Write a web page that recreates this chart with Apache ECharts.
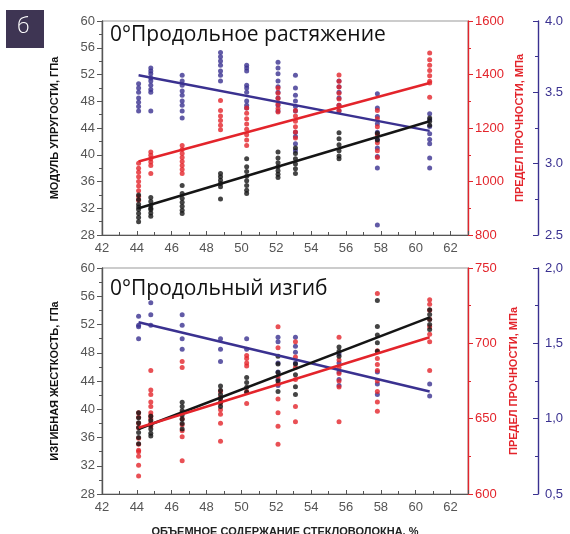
<!DOCTYPE html>
<html>
<head>
<meta charset="utf-8">
<script src="https://cdn.jsdelivr.net/npm/echarts@6/dist/echarts.min.js"></script>
<style>
  html, body { margin: 0; padding: 0; background: #fff; }
  #chart { width: 570px; height: 534px; }
</style>
</head>
<body>
<div id="chart"></div>
<script>
// fibre volume fraction, %, one value per column of points
var xCols = [44.1, 44.8, 46.6, 48.8, 50.3, 52.1, 53.1, 55.6, 57.8, 60.8];

// top: 0° tension
var tensModulus = [
  [34.0, 33.3, 32.6, 32.2, 31.8, 31.2, 30.6, 30.0],
  [33.6, 33.0, 32.4, 32.0, 31.8, 31.3, 30.8],
  [35.4, 34.2, 33.5, 32.9, 32.3, 31.7, 31.2],
  [37.2, 36.7, 36.2, 35.7, 35.2, 33.4],
  [39.4, 38.2, 37.5, 36.8, 36.1, 35.4, 34.7, 34.2],
  [40.4, 39.5, 38.8, 38.2, 37.6, 37.1, 36.6],
  [41.0, 40.2, 39.4, 38.6, 37.9, 37.2],
  [43.3, 42.4, 41.5, 40.6, 39.8, 39.4],
  [43.2, 42.2],
  [45.5, 45.0, 44.4]
];
var tensStrength = [
  [1068, 1050, 1035, 1018, 1000, 983, 965, 945, 930],
  [1110, 1098, 1085, 1073, 1060, 1030],
  [1135, 1120, 1105, 1090, 1075, 1060, 1045, 1030],
  [1303, 1265, 1245, 1228, 1210, 1193],
  [1275, 1255, 1235, 1215, 1195, 1175, 1155, 1135],
  [1350, 1330, 1310, 1290, 1273, 1260],
  [1265, 1245, 1225, 1205, 1185, 1163],
  [1398, 1375, 1353, 1330, 1308, 1285, 1265],
  [1265, 1235, 1205, 1175, 1145, 1115, 1090],
  [1480, 1455, 1435, 1415, 1395, 1375, 1368, 1315]
];
var tensThird = [
  [3.56, 3.53, 3.50, 3.46, 3.43, 3.40, 3.37],
  [3.67, 3.65, 3.63, 3.60, 3.58, 3.55, 3.52, 3.50, 3.37],
  [3.62, 3.58, 3.55, 3.51, 3.48, 3.44, 3.41, 3.37, 3.32],
  [3.78, 3.75, 3.72, 3.69, 3.65, 3.62, 3.58],
  [3.69, 3.67, 3.65, 3.55, 3.53, 3.50, 3.44, 3.41, 3.39],
  [3.71, 3.67, 3.63, 3.58, 3.54, 3.50, 3.46, 3.41, 3.37],
  [3.62, 3.53, 3.48, 3.44, 3.40, 3.37, 3.22, 3.19, 3.14, 3.09],
  [3.58, 3.54, 3.50, 3.46, 3.41, 3.37],
  [3.49, 3.39, 3.33, 3.28, 3.22, 3.17, 3.11, 3.05, 2.97, 2.57],
  [3.35, 3.31, 3.26, 3.21, 3.17, 3.14, 3.04, 2.97]
];
var tensFitModulus = [[44.1, 32.0], [60.8, 45.0]];
var tensFitStrength = [[44.1, 1075], [60.8, 1368]];
var tensFitThird = [[44.1, 3.62], [60.8, 3.23]];

// bottom: 0° bending
var bendModulus = [
  [39.5, 38.8, 38.1, 37.4, 36.7, 36.0, 35.1],
  [39.0, 38.4, 37.8, 37.2, 36.6, 36.2],
  [41.0, 40.4, 39.8, 39.2, 38.6, 38.0, 37.2],
  [43.3, 42.7, 42.1, 41.5, 41.0, 40.4],
  [44.5, 43.8, 43.1, 42.4],
  [47.5, 46.4, 45.2, 44.0, 42.5],
  [46.4, 44.9, 43.2, 42.1],
  [48.8, 48.2, 47.5],
  [55.4, 51.7, 50.5, 49.4, 48.2],
  [54.1, 53.4, 52.7, 52.0, 51.3]
];
var bendStrength = [
  [654, 651, 647, 644, 637, 633, 629, 628, 625, 619, 612],
  [682, 669, 666, 661, 658, 654, 652, 650, 647, 645],
  [688, 684, 654, 650, 646, 642, 638, 622],
  [668, 664, 660, 656, 653, 647, 635],
  [692, 690, 687, 685, 668, 660],
  [711, 697, 678, 673, 663, 654, 645, 633],
  [701, 691, 684, 676, 658, 648],
  [704, 689, 684, 680, 675, 671, 648],
  [733, 695, 690, 686, 682, 675, 668, 661, 655],
  [729, 726, 722, 716, 711, 706, 701, 682]
];
var bendThird = [
  [1.68, 1.62, 1.61, 1.53],
  [1.77, 1.69, 1.62],
  [1.69, 1.62, 1.53, 1.46],
  [1.53, 1.46, 1.38],
  [1.53, 1.46],
  [1.54, 1.51, 1.37, 1.31, 1.26, 1.22],
  [1.54, 1.48, 1.44, 1.37],
  [1.43, 1.37, 1.31, 1.26, 1.22],
  [1.31, 1.23, 1.16],
  [1.23, 1.15]
];
var bendFitModulus = [[44.1, 37.2], [60.8, 53.0]];
var bendFitStrength = [[44.1, 644], [60.8, 704]];
var bendFitThird = [[44.1, 1.64], [60.8, 1.18]];

var BLACK = '#151515';
var RED = '#e3242b';
var BLUE = '#3a3190';
var FONT = 'Liberation Sans, Arial, sans-serif';

function points(cols) {
  var out = [];
  cols.forEach(function (vals, i) {
    vals.forEach(function (v) { out.push([xCols[i], v]); });
  });
  return out;
}

function xAxis(gridIndex, withName) {
  return {
    type: 'value', gridIndex: gridIndex, min: 42, max: 63, interval: 2,
    name: withName ? 'ОБЪЕМНОЕ СОДЕРЖАНИЕ СТЕКЛОВОЛОКНА, %' : '',
    nameLocation: 'middle', nameGap: 32,
    nameTextStyle: { color: '#222', fontWeight: 'bold', fontSize: 11, fontFamily: FONT },
    axisLine: { lineStyle: { color: '#555', width: 1.2 } },
    axisTick: { inside: true, length: 4, lineStyle: { color: '#555' } },
    minorTick: { show: true, splitNumber: 2, length: 3, lineStyle: { color: '#555' } },
    axisLabel: {
      color: '#555', fontSize: 13, fontFamily: FONT, margin: 7,
      formatter: function (v) { return v % 2 === 0 ? String(v) : ''; }
    },
    splitLine: { show: false }
  };
}

function yAxis(gridIndex, o) {
  return {
    type: 'value', gridIndex: gridIndex, position: o.pos, offset: o.offset || 0,
    min: o.min, max: o.max, interval: o.interval,
    name: o.name || '', nameLocation: 'middle', nameGap: o.gap || 40,
    nameTextStyle: { color: o.nameColor || o.color, fontWeight: 'bold', fontSize: 11, fontFamily: FONT },
    axisLine: { show: true, lineStyle: { color: o.lineColor || o.color, width: 1.4 } },
    axisTick: { inside: o.inside, length: 5, lineStyle: { color: o.lineColor || o.color } },
    minorTick: { show: true, splitNumber: 2, length: 3, lineStyle: { color: o.lineColor || o.color } },
    axisLabel: {
      color: o.color, fontSize: 13, fontFamily: FONT, margin: 7,
      formatter: o.fmt || function (v) { return String(v); }
    },
    splitLine: { show: false }
  };
}

function scatter(x, y, data, color) {
  return {
    type: 'scatter', xAxisIndex: x, yAxisIndex: y, data: data,
    symbolSize: 5, itemStyle: { color: color }, silent: true
  };
}

function fit(x, y, data, color) {
  return {
    type: 'line', xAxisIndex: x, yAxisIndex: y, data: data,
    showSymbol: false, lineStyle: { color: color, width: 2.5 }, z: 3, silent: true
  };
}

var chart = echarts.init(document.getElementById('chart'));
chart.setOption({
  animation: false,
  grid: [
    { left: 102, right: 102, top: 21, height: 214, show: true, borderColor: '#999', borderWidth: 1, outerBoundsMode: 'none' },
    { left: 102, right: 102, top: 268, height: 226, show: true, borderColor: '#999', borderWidth: 1, outerBoundsMode: 'none' }
  ],
  xAxis: [xAxis(0, false), xAxis(1, true)],
  yAxis: [
    yAxis(0, { pos: 'left', min: 28, max: 60, interval: 4, color: '#555', lineColor: '#555', nameColor: '#111',
      name: 'МОДУЛЬ УПРУГОСТИ, ГПа', gap: 42 }),
    yAxis(0, { pos: 'right', min: 800, max: 1600, interval: 200, color: RED,
      name: 'ПРЕДЕЛ ПРОЧНОСТИ, МПа', gap: 46 }),
    yAxis(0, { pos: 'right', offset: 70, min: 2.5, max: 4.0, interval: 0.5, color: BLUE, inside: true,
      fmt: function (v) { return v.toFixed(1); } }),
    yAxis(1, { pos: 'left', min: 28, max: 60, interval: 4, color: '#555', lineColor: '#555', nameColor: '#111',
      name: 'ИЗГИБНАЯ ЖЕСТКОСТЬ, ГПа', gap: 42 }),
    yAxis(1, { pos: 'right', min: 600, max: 750, interval: 50, color: RED,
      name: 'ПРЕДЕЛ ПРОЧНОСТИ, МПа', gap: 40 }),
    yAxis(1, { pos: 'right', offset: 70, min: 0.5, max: 2.0, interval: 0.5, color: BLUE, inside: true,
      fmt: function (v) { return v.toFixed(1).replace('.', ','); } })
  ],
  graphic: [
    { type: 'rect', left: 6, top: 10, shape: { width: 38, height: 38 }, style: { fill: '#3e3553' } },
    { type: 'text', left: 17, top: 16, style: { text: 'б', fill: '#fff', font: '300 22px "Open Sans", sans-serif' } },
    { type: 'text', left: 110, top: 25, style: { text: '0°Продольное растяжение', fill: '#111', font: '21px "Open Sans", sans-serif' } },
    { type: 'text', left: 110, top: 279, style: { text: '0°Продольный изгиб', fill: '#111', font: '21px "Open Sans", sans-serif' } }
  ],
  series: [
    scatter(0, 2, points(tensThird), BLUE),
    scatter(0, 1, points(tensStrength), RED),
    scatter(0, 0, points(tensModulus), BLACK),
    fit(0, 2, tensFitThird, BLUE),
    fit(0, 1, tensFitStrength, RED),
    fit(0, 0, tensFitModulus, BLACK),
    scatter(1, 5, points(bendThird), BLUE),
    scatter(1, 4, points(bendStrength), RED),
    scatter(1, 3, points(bendModulus), BLACK),
    fit(1, 5, bendFitThird, BLUE),
    fit(1, 3, bendFitModulus, BLACK),
    fit(1, 4, bendFitStrength, RED)
  ]
});
</script>
</body>
</html>
